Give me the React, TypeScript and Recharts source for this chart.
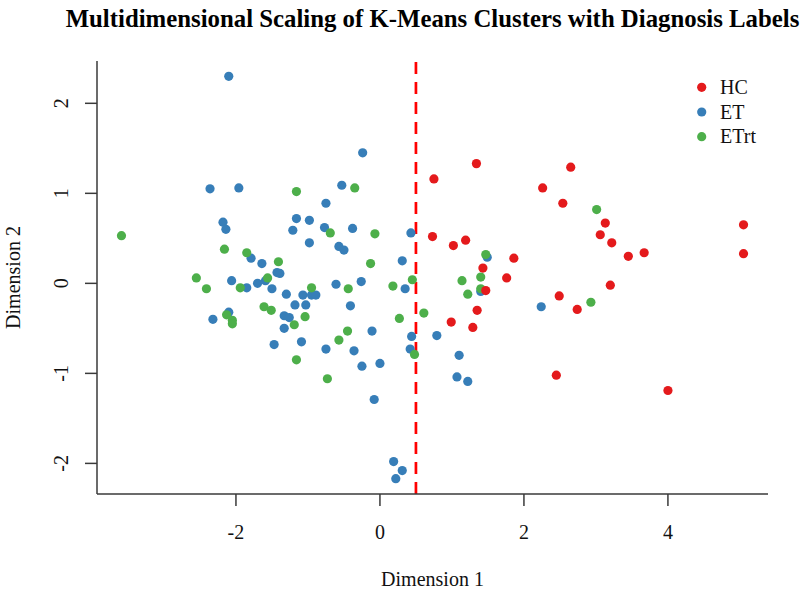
import React from 'react';
import { ScatterChart, Scatter, XAxis, YAxis, ReferenceLine, Legend } from 'recharts';

// Diagnosis groups and their Set1 colours
const groupNames = ['HC', 'ET', 'ETrt'];
const groupColors = ['#E41A1C', '#377EB8', '#4DAF4A'];

// MDS coordinates (Dimension 1, Dimension 2) per diagnosis group
const hcPoints: [number, number][] = [
  [0.75, 1.16], [1.34, 1.33], [0.73, 0.52], [1.02, 0.42], [1.19, 0.48],
  [1.86, 0.28], [1.43, 0.17], [1.76, 0.06], [1.47, -0.08], [1.35, -0.30],
  [0.99, -0.43], [1.29, -0.49], [2.26, 1.06], [2.65, 1.29], [2.54, 0.89],
  [3.13, 0.67], [3.06, 0.54], [3.22, 0.45], [3.45, 0.30], [3.67, 0.34],
  [5.05, 0.65], [5.05, 0.33], [3.20, -0.02], [2.49, -0.14], [2.74, -0.29],
  [2.45, -1.02], [4.00, -1.19],
];

const etPoints: [number, number][] = [
  [-2.10, 2.30], [-2.36, 1.05], [-1.96, 1.06], [-2.18, 0.68], [-2.14, 0.60],
  [-1.16, 0.72], [-0.98, 0.70], [-1.21, 0.59], [-0.98, 0.45], [-1.79, 0.28],
  [-1.64, 0.22], [-1.43, 0.12], [-1.39, 0.11], [-1.59, 0.03], [-1.70, 0.00],
  [-2.06, 0.03], [-1.85, -0.05], [-1.50, -0.06], [-1.30, -0.12], [-1.07, -0.13],
  [-0.95, -0.13], [-0.89, -0.13], [-1.18, -0.24], [-1.03, -0.24], [-2.10, -0.32],
  [-2.32, -0.40], [-1.33, -0.36], [-1.26, -0.38], [-1.33, -0.50], [-1.47, -0.68],
  [-1.09, -0.65], [-0.24, 1.45], [-0.53, 1.09], [-0.75, 0.89], [-0.77, 0.62],
  [-0.38, 0.61], [-0.57, 0.41], [-0.50, 0.37], [0.43, 0.56], [0.31, 0.25],
  [-0.61, -0.01], [-0.26, 0.02], [-0.41, -0.25], [-0.75, -0.73], [-0.36, -0.75],
  [-0.11, -0.53], [-0.25, -0.92], [0.00, -0.89], [-0.08, -1.29], [0.35, -0.06],
  [0.44, -0.59], [0.42, -0.73], [0.79, -0.58], [1.10, -0.80], [1.07, -1.04],
  [1.22, -1.09], [0.19, -1.98], [0.31, -2.08], [0.22, -2.17], [1.49, 0.29],
  [1.40, -0.09], [2.24, -0.26],
];

const etrtPoints: [number, number][] = [
  [-3.59, 0.53], [-1.16, 1.02], [-2.16, 0.38], [-1.85, 0.34], [-1.41, 0.24],
  [-1.56, 0.06], [-2.55, 0.06], [-2.41, -0.06], [-1.94, -0.05], [-0.95, -0.05],
  [-2.13, -0.35], [-2.05, -0.41], [-2.05, -0.45], [-1.61, -0.26], [-1.51, -0.30],
  [-1.04, -0.37], [-1.19, -0.46], [-1.16, -0.85], [-0.35, 1.06], [-0.69, 0.56],
  [-0.07, 0.55], [-0.13, 0.22], [-0.44, -0.06], [-0.45, -0.53], [-0.57, -0.63],
  [-0.73, -1.06], [0.18, -0.03], [0.45, 0.04], [0.27, -0.39], [0.61, -0.33],
  [0.48, -0.79], [1.47, 0.32], [1.40, 0.07], [1.14, 0.03], [1.22, -0.12],
  [1.40, -0.06], [3.01, 0.82], [2.93, -0.21],
];

const xTicks = [-2, 0, 2, 4];
const yTicks = [-2, -1, 0, 1, 2];
const xDomain: [number, number] = [-3.93, 5.39];
const yDomain: [number, number] = [-2.34, 2.47];
const splitAt = 0.5;

const SERIF = '"Liberation Serif", "Times New Roman", serif';
const AXIS_COLOR = '#3a3a3a';
const POINT_R = 4.6;

const toRows = (pts: [number, number][]) => pts.map(([x, y]) => ({ x, y }));

const dot = (color: string) => (props: any) => (
  <circle cx={props.cx} cy={props.cy} r={POINT_R} fill={color} />
);

const XTick = (props: any) => (
  <text
    x={props.x}
    y={props.y + 31}
    textAnchor="middle"
    fontFamily={SERIF}
    fontSize={20}
    fill="#111"
  >
    {props.payload.value}
  </text>
);

const YTick = (props: any) => (
  <text
    transform={`translate(${props.x - 15}, ${props.y}) rotate(-90)`}
    textAnchor="middle"
    fontFamily={SERIF}
    fontSize={20}
    fill="#111"
  >
    {props.payload.value}
  </text>
);

const XTitle = (props: any) => {
  const vb = props.viewBox;
  return (
    <text
      x={vb.x + vb.width / 2}
      y={vb.y + 92}
      textAnchor="middle"
      fontFamily={SERIF}
      fontSize={20}
      fill="#111"
    >
      Dimension 1
    </text>
  );
};

const YTitle = (props: any) => {
  const vb = props.viewBox;
  return (
    <text
      transform={`translate(20, ${vb.y + vb.height / 2}) rotate(-90)`}
      textAnchor="middle"
      fontFamily={SERIF}
      fontSize={20}
      fill="#111"
    >
      Dimension 2
    </text>
  );
};

const LegendBox = () => (
  <svg width={90} height={80} style={{ display: 'block' }}>
    {groupNames.map((name, i) => (
      <g key={name}>
        <circle cx={7.7} cy={12.3 + i * 24.7} r={POINT_R} fill={groupColors[i]} />
        <text x={26} y={19 + i * 24.7} fontFamily={SERIF} fontSize={20} fill="#111">
          {name}
        </text>
      </g>
    ))}
  </svg>
);

export default function App() {
  return (
    <div style={{ position: 'absolute', left: 0, top: 0, width: 800, height: 593, background: '#fff' }}>
      <svg
        width={800}
        height={40}
        style={{ position: 'absolute', left: 0, top: 0, pointerEvents: 'none' }}
      >
        <text
          x={432.5}
          y={27}
          textAnchor="middle"
          fontFamily={SERIF}
          fontWeight="bold"
          fontSize={24.8}
          fill="#000"
        >
          Multidimensional Scaling of K-Means Clusters with Diagnosis Labels
        </text>
      </svg>
      <ScatterChart width={800} height={593} margin={{ top: 61, right: 32, bottom: 0, left: 0 }}>
        <XAxis
          type="number"
          dataKey="x"
          domain={xDomain}
          ticks={xTicks}
          allowDataOverflow
          height={99}
          tickSize={12}
          tickMargin={2}
          tick={<XTick />}
          axisLine={{ stroke: AXIS_COLOR, strokeWidth: 1.5 }}
          tickLine={{ stroke: AXIS_COLOR, strokeWidth: 1.5 }}
          label={<XTitle />}
        />
        <YAxis
          type="number"
          dataKey="y"
          domain={yDomain}
          ticks={yTicks}
          allowDataOverflow
          width={97}
          tickSize={12}
          tickMargin={2}
          tick={<YTick />}
          axisLine={{ stroke: AXIS_COLOR, strokeWidth: 1.5 }}
          tickLine={{ stroke: AXIS_COLOR, strokeWidth: 1.5 }}
          label={<YTitle />}
        />
        <Legend
          layout="vertical"
          align="center"
          verticalAlign="middle"
          content={<LegendBox />}
          wrapperStyle={{ top: 75, left: 694, width: 90, height: 80 }}
        />
        <Scatter name="ET" data={toRows(etPoints)} shape={dot(groupColors[1])} isAnimationActive={false} />
        <Scatter name="ETrt" data={toRows(etrtPoints)} shape={dot(groupColors[2])} isAnimationActive={false} />
        <Scatter name="HC" data={toRows(hcPoints)} shape={dot(groupColors[0])} isAnimationActive={false} />
        <ReferenceLine
          x={splitAt}
          stroke="#FF0000"
          strokeWidth={2.7}
          strokeDasharray="12 8"
          ifOverflow="visible"
        />
      </ScatterChart>
    </div>
  );
}
